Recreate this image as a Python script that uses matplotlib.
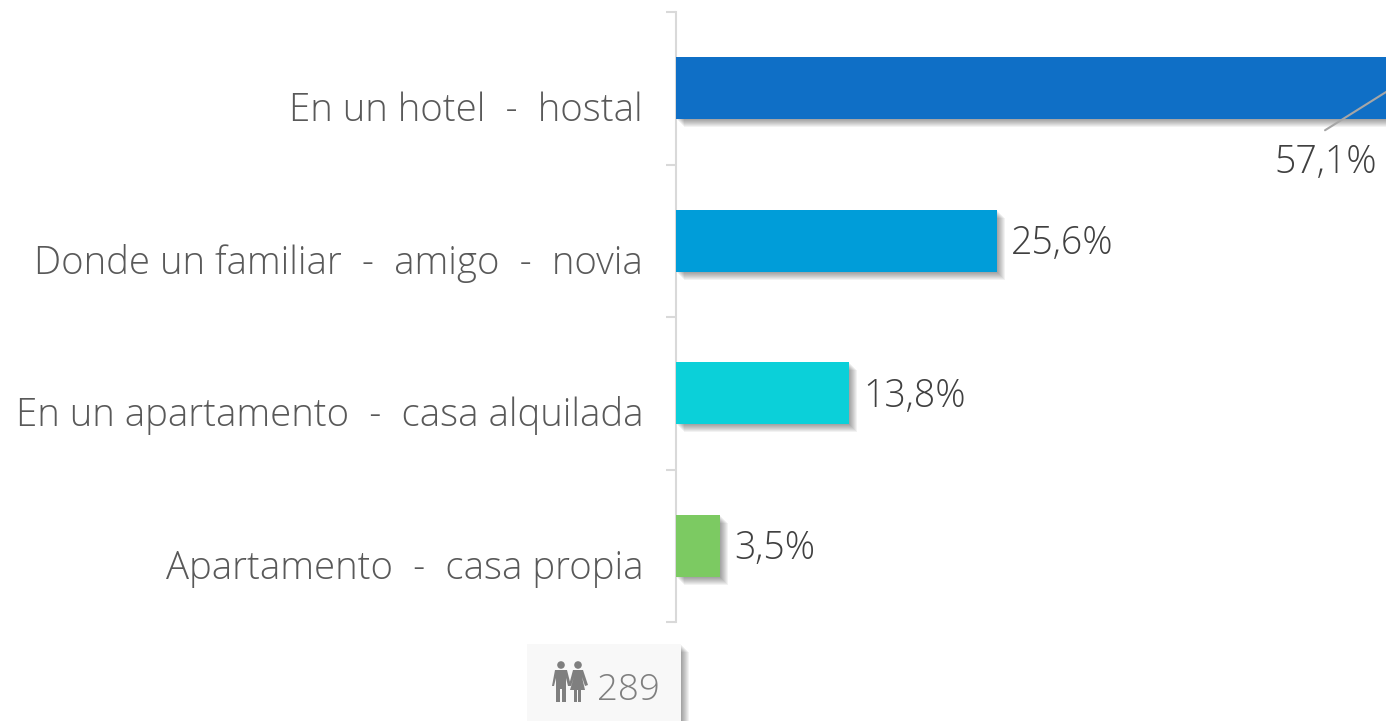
#!/usr/bin/python3
import matplotlib
matplotlib.use('Agg')
import matplotlib.pyplot as plt
import matplotlib.patheffects as pe
from matplotlib.patches import Rectangle, Circle, Polygon
from matplotlib.transforms import ScaledTranslation

categories = ['En un hotel  -  hostal', 'Donde un familiar  -  amigo  -  novia',
              'En un apartamento  -  casa alquilada', 'Apartamento  -  casa propia']
values = [57.1, 25.6, 13.8, 3.5]
value_labels = ['57,1%', '25,6%', '13,8%', '3,5%']
bar_colors = ['#0f6fc6', '#009dd9', '#0bd0d9', '#7cca62']
total = '289'

W, H = 1386, 721
px = 0.72  # un pixel en puntos, con dpi=100
plt.rcParams['font.family'] = ['Open Sans', 'DejaVu Sans']

fig = plt.figure(figsize=(W / 100, H / 100), dpi=100, facecolor='white')
ax = fig.add_axes([676 / W, 1 - 622 / H, 710 / W, 610 / H])
ax.set_facecolor('none')

# sombra difusa: varias capas desplazadas
shadow = [pe.SimplePatchShadow(offset=(o * px, -o * px), shadow_rgbFace='#000000', alpha=0.05, rho=1)
          for o in (8, 7, 6, 5, 4, 3, 2, 1)] + [pe.Normal()]
bars = ax.barh(range(4), values, height=62 / 152.5, color=bar_colors, zorder=3)
for b in bars:
    b.set_path_effects(shadow)

ax.set_xlim(0, 710 / 12.54)
ax.set_ylim(3.5, -0.5)
ax.xaxis.set_visible(False)
for s in ['top', 'right', 'bottom']:
    ax.spines[s].set_visible(False)
ax.spines['left'].set_color('#d9d9d9')
ax.spines['left'].set_linewidth(1.5)
ax.set_yticks([-0.5, 0.5, 1.5, 2.5, 3.5])
ax.set_yticklabels([])
ax.tick_params(axis='y', which='major', length=10 * px, width=1.5, color='#d9d9d9')
ax.set_yticks(range(4), minor=True)
ax.set_yticklabels(categories, minor=True, fontsize=27.6, fontweight='light', color='#595959')
ax.tick_params(axis='y', which='minor', length=0, pad=33 * px)
off = ScaledTranslation(0, -18 * px / 72, fig.dpi_scale_trans)
for lab in ax.get_yticklabels(minor=True):
    lab.set_transform(lab.get_transform() + off)

# etiquetas de valor
for i in range(1, 4):
    ax.annotate(value_labels[i], (values[i], i), xytext=(14 * px, -3 * px), textcoords='offset points',
                va='center', ha='left', fontsize=27, fontweight='light', color='#404040')
ax.annotate(value_labels[0], (values[0], 0), xytext=(-66 * px, -74 * px), textcoords='offset points',
            va='center', ha='center', fontsize=27, fontweight='light', color='#404040', annotation_clip=False)
ax.annotate('', (values[0], 0), xytext=(-67 * px, -42 * px), textcoords='offset points',
            arrowprops=dict(arrowstyle='-', color='#a6a6a6', lw=1.5, shrinkA=0, shrinkB=0),
            annotation_clip=False, zorder=5)

# caja del total con icono, en coordenadas de pixel
ov = fig.add_axes([0, 0, 1, 1])
ov.set_xlim(0, W)
ov.set_ylim(H, 0)
ov.axis('off')
ov.patch.set_alpha(0)
box = Rectangle((527, 644), 154, 80, facecolor='#f8f8f8', edgecolor='none')
box.set_path_effects(shadow)
ov.add_patch(box)
ov.text(628, 690, total, ha='center', va='center', fontsize=26.5, fontweight='light', color='#7f7f7f')

c = '#7f7f7f'
ov.add_patch(Circle((561, 665), 3.8, color=c, lw=0))
ov.add_patch(Polygon([(555, 670), (567, 670), (571, 686), (568, 686), (566, 678), (566, 702), (562, 702),
                      (562, 689), (560, 689), (560, 702), (556, 702), (556, 678), (554, 686), (552, 686)],
                     color=c, lw=0))
ov.add_patch(Circle((578, 665), 3.8, color=c, lw=0))
ov.add_patch(Polygon([(573, 670), (583, 670), (588, 685), (585, 686), (582, 677), (585, 690), (581, 690),
                      (581, 702), (578, 702), (578, 690), (577, 690), (577, 702), (574, 702), (574, 690),
                      (570, 690), (574, 677), (571, 686), (569, 685)], color=c, lw=0))

fig.savefig('out.png', dpi=100)
